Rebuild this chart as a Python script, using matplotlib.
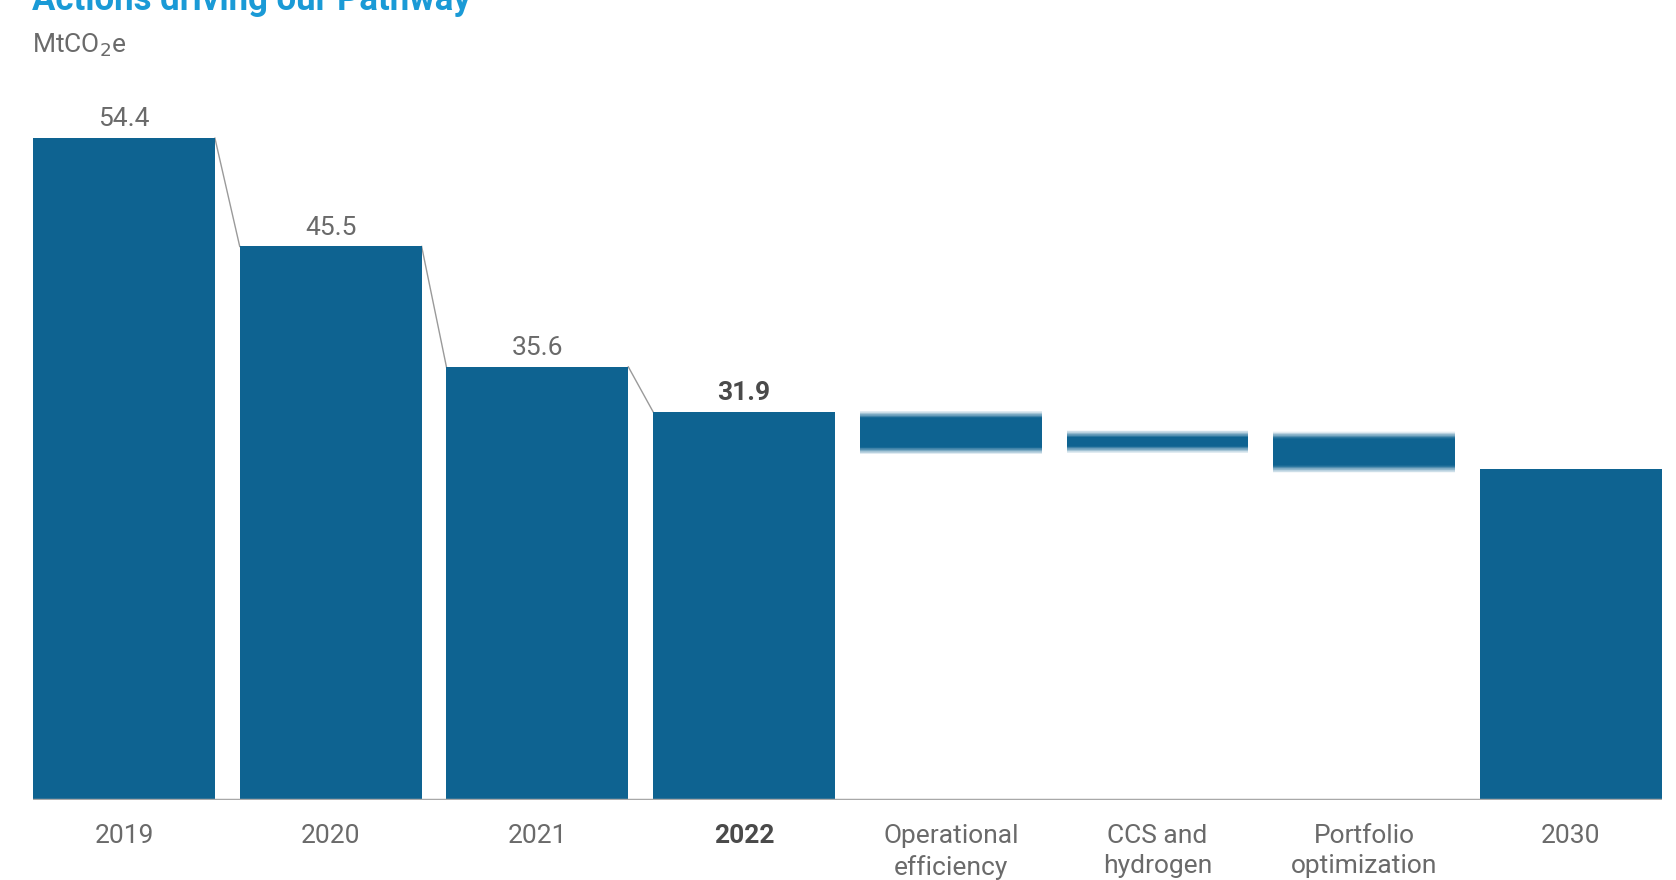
import matplotlib.pyplot as plt
import numpy as np

plt.rcParams['font.family'] = ['Roboto', 'DejaVu Sans']

categories = ['2019', '2020', '2021', '2022', 'Operational\nefficiency',
              'CCS and\nhydrogen', 'Portfolio\noptimization', '2030']
# solid bars (actuals + target)
solid_idx = [0, 1, 2, 3, 7]
solid_vals = [54.4, 45.5, 35.6, 31.9, 27.2]
value_labels = ['54.4', '45.5', '35.6', '31.9']
# floating levers (bottom, top)
lever_idx = [4, 5, 6]
lever_bottom = [28.4, 28.5, 26.9]
lever_top = [32.0, 30.4, 30.3]

bar_color = '#0e6391'
grey_text = '#6a6a6a'
width = 0.88

fig = plt.figure(figsize=(16.76, 8.8), dpi=100)
ax = fig.add_axes([0.0197, 0.0909, 0.9719, 0.8295])

ax.bar(solid_idx, solid_vals, width=width, color=bar_color, zorder=2)

# levers with soft (blurred) top and bottom edges
blur = 0.6
steps = 12
for x, lo, hi in zip(lever_idx, lever_bottom, lever_top):
    ax.bar(x, (hi - lo) - 2 * blur, bottom=lo + blur, width=width,
           color=bar_color, zorder=2, linewidth=0)
    for k in range(steps):
        a = 1 - (k + 0.5) / steps
        h = blur / steps
        ax.bar(x, h, bottom=lo + blur - (k + 1) * h, width=width,
               color=bar_color, alpha=a, linewidth=0, zorder=2)
        ax.bar(x, h, bottom=hi - blur + k * h, width=width,
               color=bar_color, alpha=a, linewidth=0, zorder=2)

# connector lines between the historical bars
for i in range(3):
    ax.plot([i + width / 2, i + 1 - width / 2],
            [solid_vals[i], solid_vals[i + 1]],
            color='#9a9a9a', lw=1, zorder=1)

# value labels
for i, lab in enumerate(value_labels):
    bold = (i == 3)
    ax.annotate(lab, (solid_idx[i], solid_vals[i]), xytext=(0, 5),
                textcoords='offset points', ha='center', va='bottom',
                fontsize=19, color='#4a4a4a' if bold else grey_text,
                fontweight='bold' if bold else 'normal')

ax.axhline(0, color='#a8a8a8', lw=2.5, zorder=3)

ax.set_xlim(-width / 2, 7 + width / 2)
ax.set_ylim(0, 60)
ax.set_xticks(range(len(categories)))
ax.set_xticklabels(categories, fontsize=19, color=grey_text, linespacing=1.35)
ax.get_xticklabels()[3].set_fontweight('bold')
ax.get_xticklabels()[3].set_color('#4a4a4a')
ax.tick_params(axis='x', length=0, pad=17)
ax.set_yticks([])
for s in ax.spines.values():
    s.set_visible(False)

fig.text(0.019, 1 - 45 / 880, 'MtCO$_2$e', fontsize=19, color=grey_text,
         va='center', ha='left')
# title, cut off at the top of the image
fig.text(0.019, 1 - 10 / 880, 'Actions driving our Pathway', fontsize=25,
         color='#1a9ad6', fontweight='bold', va='baseline', ha='left')

fig.savefig('out.png', dpi=100)
